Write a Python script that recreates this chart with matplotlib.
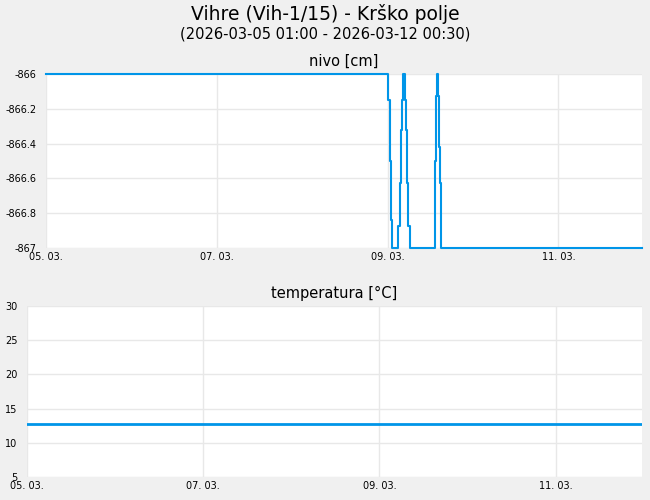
import numpy as np
import matplotlib
matplotlib.use("Agg")
import matplotlib.pyplot as plt
from datetime import datetime, timedelta

# Data
start = datetime(2026, 3, 5, 1, 0)
end = datetime(2026, 3, 12, 0, 30)

# nivo: hours after start and level [cm] (step values)
nivo_hours = [0.0, 96.2, 96.6, 97.0, 97.2, 99.0, 99.4, 99.8, 100.0, 100.2,
              100.9, 101.1, 101.5, 101.85, 102.25,
              109.2, 109.4, 109.65, 110.0, 110.1, 110.4, 110.7, 111.0, 111.1, 167.5]
nivo_values = [-866.0, -866.15, -866.5, -866.84, -867.0, -866.875, -866.625, -866.32, -866.15, -866.0,
               -866.15, -866.32, -866.625, -866.875, -867.0,
               -866.84, -866.5, -866.125, -866.0, -866.125, -866.42, -866.625, -866.875, -867.0, -867.0]

temp_hours = [0.0, 167.5]
temp_values = [12.7, 12.7]

tick_days = [0, 2, 4, 6]
tick_labels = ["05. 03.", "07. 03.", "09. 03.", "11. 03."]

# Style
bg = "#f0f0f0"
line_col = "#0095e8"
grid_col = "#e8e8e8"

fig = plt.figure(figsize=(6.5, 5.0), dpi=100, facecolor=bg)
fig.text(0.5, 0.972, "Vihre (Vih-1/15) - Krško polje", ha="center", va="center", fontsize=13.5)
fig.text(0.5, 0.932, "(2026-03-05 01:00 - 2026-03-12 00:30)", ha="center", va="center", fontsize=10.5)

ax1 = fig.add_axes([46/650, 1-248/500, 596/650, 174/500])
ax2 = fig.add_axes([27/650, 1-477/500, 615/650, 171/500])

def style(ax, title):
	ax.set_facecolor("white")
	for s in ax.spines.values():
		s.set_visible(False)
	ax.grid(True, color=grid_col, linewidth=1)
	ax.set_axisbelow(True)
	ax.tick_params(axis="x", length=0, labelsize=7, pad=3)
	ax.tick_params(axis="y", length=0, labelsize=7, pad=7)
	ax.set_title(title, fontsize=10.5, pad=6)
	ticks = [start + timedelta(days=d) for d in tick_days]
	ax.set_xticks(ticks)
	ax.set_xticklabels(tick_labels)
	ax.set_xlim(start, end)

t1 = [start + timedelta(hours=h) for h in nivo_hours]
ax1.plot(t1, nivo_values, drawstyle="steps-post", color=line_col, linewidth=1.5, clip_on=False)
style(ax1, "nivo [cm]")
ax1.set_ylim(-867, -866)
ax1.set_yticks([-867, -866.8, -866.6, -866.4, -866.2, -866])
ax1.set_yticklabels(["-867", "-866.8", "-866.6", "-866.4", "-866.2", "-866"])

t2 = [start + timedelta(hours=h) for h in temp_hours]
ax2.plot(t2, temp_values, color=line_col, linewidth=2)
style(ax2, "temperatura [°C]")
ax2.set_ylim(5, 30)
ax2.set_yticks([5, 10, 15, 20, 25, 30])

fig.savefig("out.png", dpi=100, facecolor=bg)
